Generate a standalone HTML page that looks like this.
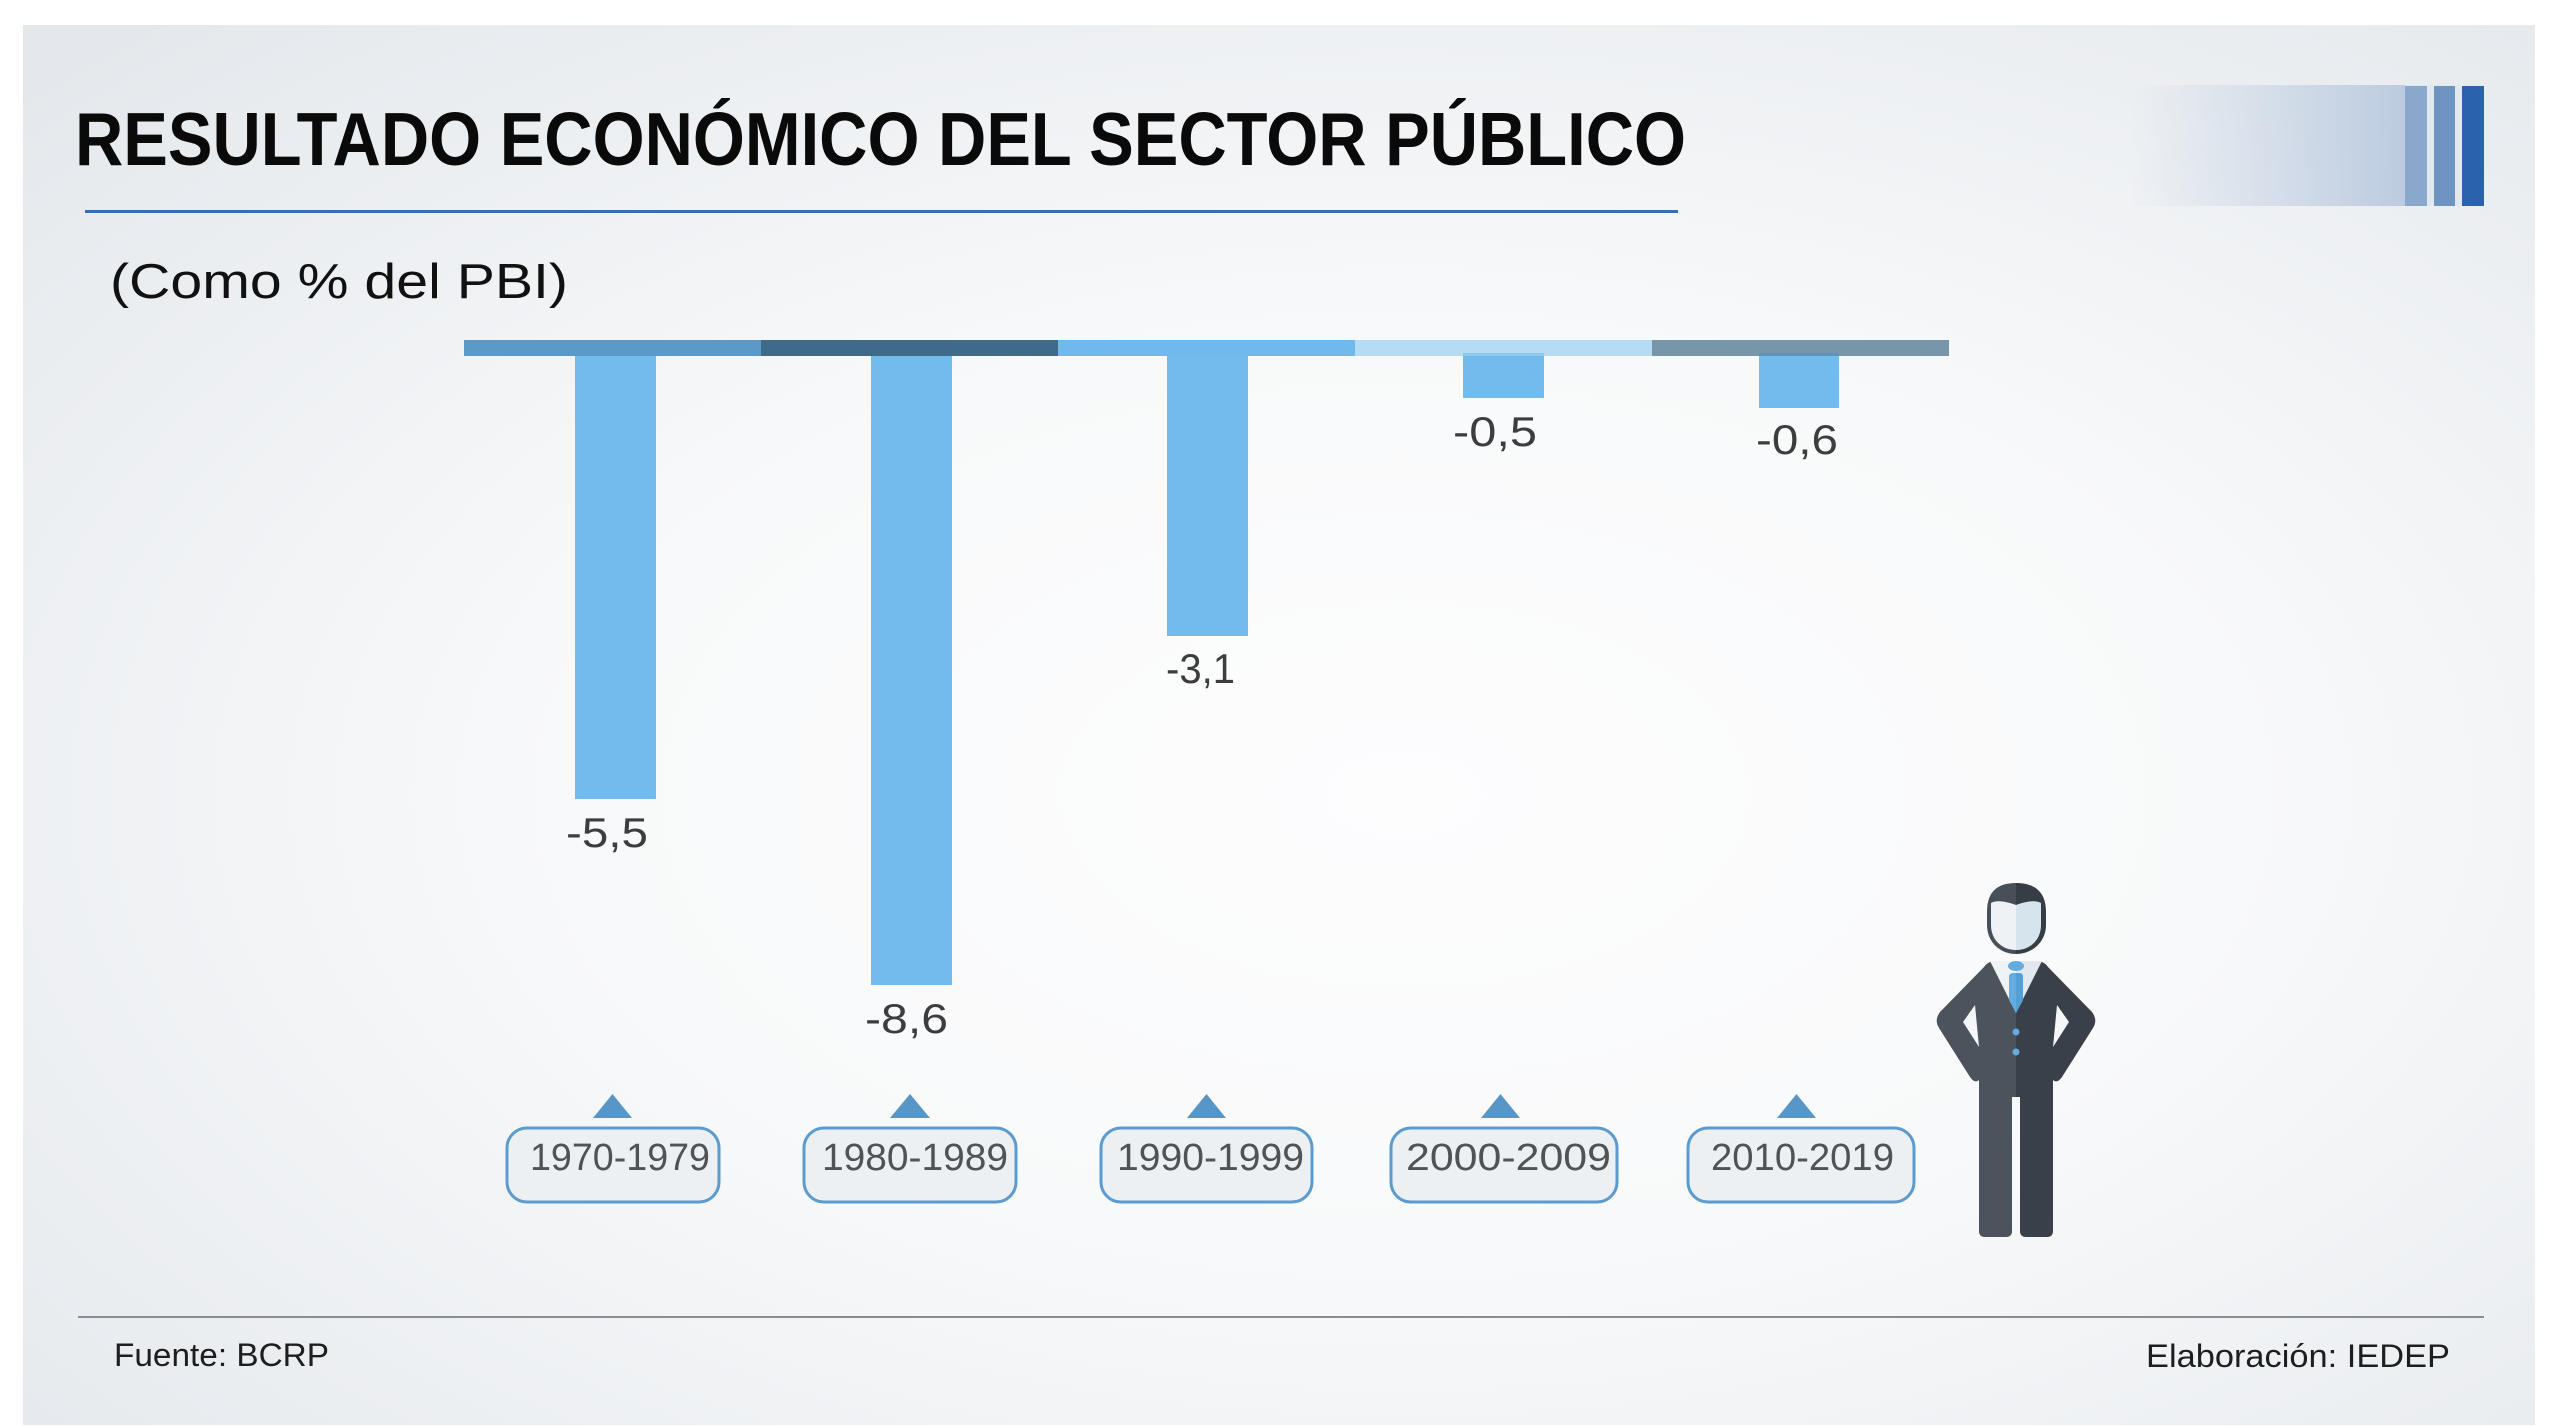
<!DOCTYPE html>
<html><head><meta charset="utf-8"><style>
html,body{margin:0;padding:0;background:#fff;}
body{width:2560px;height:1426px;overflow:hidden;position:relative;}
svg{position:absolute;left:0;top:0;}
</style></head><body>
<svg width="2560" height="1426" viewBox="0 0 2560 1426" xmlns="http://www.w3.org/2000/svg">
<defs>
<radialGradient id="bg" cx="0.55" cy="0.55" r="0.75">
<stop offset="0" stop-color="#fdfdfe"/>
<stop offset="0.45" stop-color="#f8f9fa"/>
<stop offset="1" stop-color="#e4e8ec"/>
</radialGradient>
<linearGradient id="deco" x1="0" y1="0" x2="1" y2="0">
<stop offset="0" stop-color="#c3d1e3" stop-opacity="0"/>
<stop offset="1" stop-color="#bccbe0"/>
</linearGradient>
</defs>
<rect x="0" y="0" width="2560" height="1426" fill="#ffffff"/>
<rect x="23" y="25" width="2512" height="1400" fill="url(#bg)"/>

<!-- deco top right -->
<rect x="2130" y="85" width="275" height="121" fill="url(#deco)"/>
<rect x="2405" y="85" width="79" height="121" fill="#e2e8f0"/>
<rect x="2405" y="86" width="22" height="120" fill="#8aa8cc"/>
<rect x="2434" y="86" width="21" height="120" fill="#6f94c2"/>
<rect x="2462" y="86" width="22" height="120" fill="#2b62ad"/>

<!-- title -->
<text x="75" y="165" font-family="Liberation Sans, sans-serif" font-weight="bold" font-size="75" fill="#0a0a0a" textLength="1611" lengthAdjust="spacingAndGlyphs">RESULTADO ECONÓMICO DEL SECTOR PÚBLICO</text>
<rect x="85" y="210" width="1593" height="3" fill="#3a6cb0"/>
<text x="110" y="298" font-family="Liberation Sans, sans-serif" font-size="49" fill="#111" textLength="458" lengthAdjust="spacingAndGlyphs">(Como % del PBI)</text>

<!-- band -->
<rect x="464" y="340" width="297" height="16" fill="#5b9ac8"/>
<rect x="761" y="340" width="297" height="16" fill="#3f6b88"/>
<rect x="1058" y="340" width="297" height="16" fill="#6fb9ec"/>
<rect x="1355" y="340" width="297" height="16" fill="#b6dbf4"/>
<rect x="1652" y="340" width="297" height="16" fill="#7896a9"/>

<!-- bars -->
<rect x="575" y="356" width="81" height="443" fill="#72bbed"/>
<rect x="871" y="356" width="81" height="629" fill="#72bbed"/>
<rect x="1167" y="356" width="81" height="280" fill="#72bbed"/>
<rect x="1463" y="356" width="81" height="42" fill="#72bbed"/>
<rect x="1463" y="353" width="81" height="3" fill="#8ec9ef"/>
<rect x="1759" y="356" width="80" height="52" fill="#72bbed"/>
<rect x="1759" y="353" width="80" height="3" fill="#5f93b8"/>

<!-- value labels -->
<g font-family="Liberation Sans, sans-serif" font-size="42" fill="#3d3d3f">
<text x="566" y="847" textLength="82" lengthAdjust="spacingAndGlyphs">-5,5</text>
<text x="865" y="1033" textLength="83" lengthAdjust="spacingAndGlyphs">-8,6</text>
<text x="1166" y="683" textLength="69" lengthAdjust="spacingAndGlyphs">-3,1</text>
<text x="1453" y="446" textLength="84" lengthAdjust="spacingAndGlyphs">-0,5</text>
<text x="1756" y="454" textLength="82" lengthAdjust="spacingAndGlyphs">-0,6</text>
</g>

<!-- triangles -->
<g fill="#5796c6">
<polygon points="593,1118 632,1118 612.5,1094"/>
<polygon points="890,1118 930,1118 910,1094"/>
<polygon points="1187,1118 1226,1118 1206.5,1094"/>
<polygon points="1481,1118 1520,1118 1500.5,1094"/>
<polygon points="1777,1118 1816,1118 1796.5,1094"/>
</g>

<!-- year boxes -->
<g fill="#edf0f2" stroke="#5c9bcf" stroke-width="3">
<rect x="507" y="1128" width="212" height="74" rx="20"/>
<rect x="804" y="1128" width="212" height="74" rx="20"/>
<rect x="1101" y="1128" width="211" height="74" rx="20"/>
<rect x="1391" y="1128" width="226" height="74" rx="20"/>
<rect x="1688" y="1128" width="226" height="74" rx="20"/>
</g>
<g font-family="Liberation Sans, sans-serif" font-size="38" fill="#4f5256">
<text x="530" y="1170" textLength="180" lengthAdjust="spacingAndGlyphs">1970-1979</text>
<text x="822" y="1170" textLength="186" lengthAdjust="spacingAndGlyphs">1980-1989</text>
<text x="1117" y="1170" textLength="187" lengthAdjust="spacingAndGlyphs">1990-1999</text>
<text x="1406" y="1170" textLength="205" lengthAdjust="spacingAndGlyphs">2000-2009</text>
<text x="1711" y="1170" textLength="183" lengthAdjust="spacingAndGlyphs">2010-2019</text>
</g>

<!-- person -->
<g>
<!-- legs -->
<path d="M1979,1070 L2016,1070 L2016,1097 L2012,1097 L2012,1231 Q2012,1237 2006,1237 L1985,1237 Q1979,1237 1979,1231 Z" fill="#4b535d"/>
<path d="M2053,1070 L2016,1070 L2016,1097 L2020,1097 L2020,1231 Q2020,1237 2026,1237 L2047,1237 Q2053,1237 2053,1231 Z" fill="#3a4049"/>
<!-- jacket left -->
<path d="M2016,961 L1996,961 Q1988,961 1984,967 L1940,1012 Q1934,1020 1939,1028 L1970,1077 Q1975,1084 1979,1080 L1979,1090 L2016,1090 Z" fill="#4b535d"/>
<path d="M2016,961 L2036,961 Q2044,961 2048,967 L2092,1012 Q2098,1020 2093,1028 L2062,1077 Q2057,1084 2053,1080 L2053,1090 L2016,1090 Z" fill="#3a4049"/>
<!-- arm gaps -->
<polygon points="1975,1005 1963,1022 1979,1047" fill="#f5f6f8"/>
<polygon points="2057,1005 2069,1022 2053,1047" fill="#f5f6f8"/>
<!-- collar -->
<polygon points="1990,961 2016,961 2016,1013" fill="#f0f3f6"/>
<polygon points="2042,961 2016,961 2016,1013" fill="#e1e9ef"/>
<!-- tie -->
<ellipse cx="2016" cy="966" rx="8" ry="5" fill="#63ace0"/>
<path d="M2009,977 Q2009,973 2013,973 L2019,973 Q2023,973 2023,977 L2023,1000 L2016,1013 L2009,1000 Z" fill="#63ace0"/>
<path d="M2016,973 L2019,973 Q2023,973 2023,977 L2023,1000 L2016,1013 Z" fill="#559fd4"/>
<!-- buttons -->
<circle cx="2016" cy="1032" r="3.5" fill="#63ace0"/>
<circle cx="2016" cy="1052" r="3.5" fill="#63ace0"/>
<!-- head -->
<path d="M2016,883 C1996,883 1987,893 1987,912 L1987,925 C1987,942 2000,954 2016,954 Z" fill="#474f58"/>
<path d="M2016,883 C2036,883 2046,893 2046,912 L2046,925 C2046,942 2032,954 2016,954 Z" fill="#373d45"/>
<path d="M2016,905 C2005,901 1996,900 1991,903 L1991,925 C1991,940 2002,950 2016,950 Z" fill="#eef2f5"/>
<path d="M2016,905 C2027,901 2036,900 2041,903 L2041,925 C2041,940 2030,950 2016,950 Z" fill="#d6e4ee"/>
</g>

<!-- footer -->
<rect x="78" y="1316" width="2406" height="2" fill="#8a8c8f"/>
<text x="114" y="1366" font-family="Liberation Sans, sans-serif" font-size="32" fill="#1e1e1e" textLength="215" lengthAdjust="spacingAndGlyphs">Fuente: BCRP</text>
<text x="2146" y="1367" font-family="Liberation Sans, sans-serif" font-size="32" fill="#1e1e1e" textLength="304" lengthAdjust="spacingAndGlyphs">Elaboración: IEDEP</text>
</svg>
</body></html>
